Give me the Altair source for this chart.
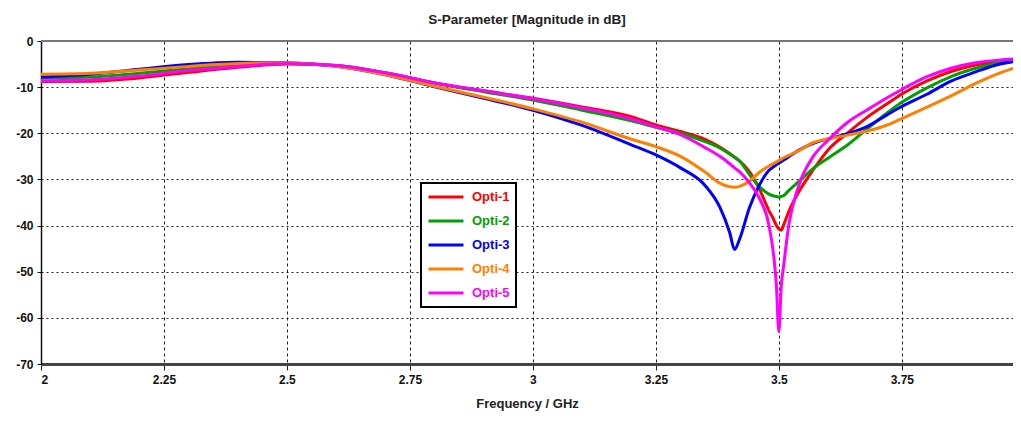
import altair as alt
import pandas as pd

freq = [2.0, 2.1, 2.2, 2.3, 2.4, 2.5, 2.6, 2.7, 2.8, 2.9, 3.0, 3.1, 3.2, 3.25, 3.3,
        3.35, 3.38, 3.40, 3.41, 3.42, 3.44, 3.46, 3.48, 3.49, 3.495, 3.50, 3.505, 3.51,
        3.52, 3.54, 3.57, 3.60, 3.64, 3.68, 3.72, 3.75, 3.80, 3.85, 3.90, 3.95, 3.99]

opti1 = [-8.8, -8.7, -8.0, -6.8, -5.7, -5.0, -5.3, -6.9, -9.1, -10.8, -12.4, -14.3, -16.4, -18.2, -19.6,
         -21.3, -23.0, -24.4, -25.2, -26.0, -28.3, -32.0, -36.8, -38.8, -40.0, -40.7, -41.0, -39.8,
         -37.0, -32.8, -27.9, -23.6, -19.9, -16.5, -13.6, -11.5, -8.7, -6.6, -5.2, -4.4, -3.9]

opti2 = [-8.0, -7.8, -7.0, -6.0, -5.2, -4.9, -5.3, -6.9, -9.1, -11.0, -12.8, -15.0, -17.3, -18.7, -20.0,
         -21.8, -23.2, -24.5, -25.2, -26.0, -28.9, -31.5, -33.2, -33.6, -33.7, -33.8, -33.7, -33.5,
         -32.4, -30.5, -27.6, -25.4, -22.5, -19.0, -15.6, -13.3, -10.2, -7.7, -5.9, -4.6, -4.0]

opti3 = [-7.8, -7.2, -6.1, -5.1, -4.6, -4.7, -5.5, -7.3, -9.9, -12.4, -15.0, -18.3, -22.5, -24.7, -27.5,
         -31.3, -36.0, -41.5, -45.2, -43.0, -36.2, -31.3, -28.0, -27.2, -26.8, -26.5, -26.1, -25.8,
         -25.1, -23.7, -22.2, -21.2, -20.1, -18.5, -16.0, -14.2, -11.6, -8.7, -6.7, -5.0, -4.3]

opti4 = [-7.2, -7.0, -6.3, -5.5, -4.9, -4.7, -5.5, -7.3, -9.8, -12.2, -14.7, -17.6, -21.3, -22.9, -25.0,
         -28.4, -30.8, -31.6, -31.7, -31.5, -30.4, -28.5, -27.1, -26.5, -26.2, -25.9, -25.6, -25.3,
         -24.8, -23.8, -22.0, -21.2, -20.4, -19.5, -18.2, -16.8, -14.4, -11.9, -9.2, -6.9, -5.5]

opti5 = [-8.6, -8.4, -7.6, -6.4, -5.5, -4.9, -5.3, -6.9, -9.1, -10.8, -12.5, -14.5, -16.9, -18.6, -20.3,
         -23.1, -25.0, -26.6, -27.5, -28.3, -30.7, -34.0, -40.0, -47.0, -53.0, -63.0, -53.0, -48.5,
         -40.0, -31.5, -25.0, -21.5, -17.6, -14.9, -12.3, -10.5, -7.8, -5.9, -4.7, -4.1, -3.8]

series_names = ["Opti-1", "Opti-2", "Opti-3", "Opti-4", "Opti-5"]
series_colors = ["#ff0000", "#00a000", "#0000ff", "#ff8000", "#ff00ff"]
series_values = [opti1, opti2, opti3, opti4, opti5]

x_ticks = [2.0, 2.25, 2.5, 2.75, 3.0, 3.25, 3.5, 3.75]
y_ticks = [0, -10, -20, -30, -40, -50, -60, -70]

rows = []
for name, vals in zip(series_names, series_values):
    for f, v in zip(freq, vals):
        rows.append({"freq": f, "db": v, "series": name})
df = pd.DataFrame(rows)

FONT = "Liberation Sans"

x_enc = alt.X(
    "freq:Q",
    scale=alt.Scale(domain=[2.0, 3.976], nice=False, zero=False),
    axis=alt.Axis(
        values=x_ticks, labelExpr="'' + datum.value", title="Frequency / GHz",
        grid=True, gridDash=[3, 3], gridColor="#222", gridWidth=1,
        domainColor="#444", domainWidth=3, tickColor="#222", tickSize=6, tickWidth=1,
        labelFont=FONT, labelFontWeight="bold", labelFontSize=12, labelColor="#111",
        labelPadding=4, titleFont=FONT, titleFontWeight="bold", titleFontSize=13,
        titleColor="#222", titlePadding=12,
    ),
)
y_enc = alt.Y(
    "db:Q",
    scale=alt.Scale(domain=[-70, 0], nice=False, zero=False),
    axis=alt.Axis(
        values=y_ticks, labelExpr="'' + datum.value", title=None,
        grid=True, gridDash=[2, 3], gridColor="#222", gridWidth=1,
        domainColor="#111", domainWidth=1.5, tickColor="#111", tickSize=4,
        labelFont=FONT, labelFontWeight="bold", labelFontSize=12, labelColor="#111",
        labelPadding=4,
    ),
)

lines = alt.Chart(df).mark_line(strokeWidth=3, interpolate="monotone", clip=True).encode(
    x=x_enc,
    y=y_enc,
    color=alt.Color(
        "series:N",
        scale=alt.Scale(domain=series_names, range=series_colors),
        legend=alt.Legend(
            title=None, orient="none", legendX=380, legendY=142,
            symbolType="stroke", symbolStrokeWidth=3, symbolSize=1225, clipHeight=16,
            labelFont=FONT, labelFontWeight="bold", labelFontSize=13, labelOffset=7,
            labelColor={"expr": "scale('color', datum.value)"},
            strokeColor="#000", fillColor="#fff", padding=6, rowPadding=8,
        ),
    ),
)

top_line = alt.Chart(pd.DataFrame({"db": [0]})).mark_rule(color="#777", strokeWidth=2).encode(
    y=alt.Y("db:Q")
)

chart = alt.layer(lines, top_line).properties(
    width=972,
    height=323,
    padding={"left": 33, "top": 33, "right": 0, "bottom": 49},
    autosize=alt.AutoSizeParams(type="none"),
    title=alt.TitleParams(
        "S-Parameter [Magnitude in dB]", font=FONT, fontSize=13.5, fontWeight="bold",
        color="#222", anchor="middle", offset=9,
    ),
).configure_view(stroke=None).configure_legend(strokeWidth=2)

chart.save("out.html", embed_options={"renderer": "svg", "actions": False})
